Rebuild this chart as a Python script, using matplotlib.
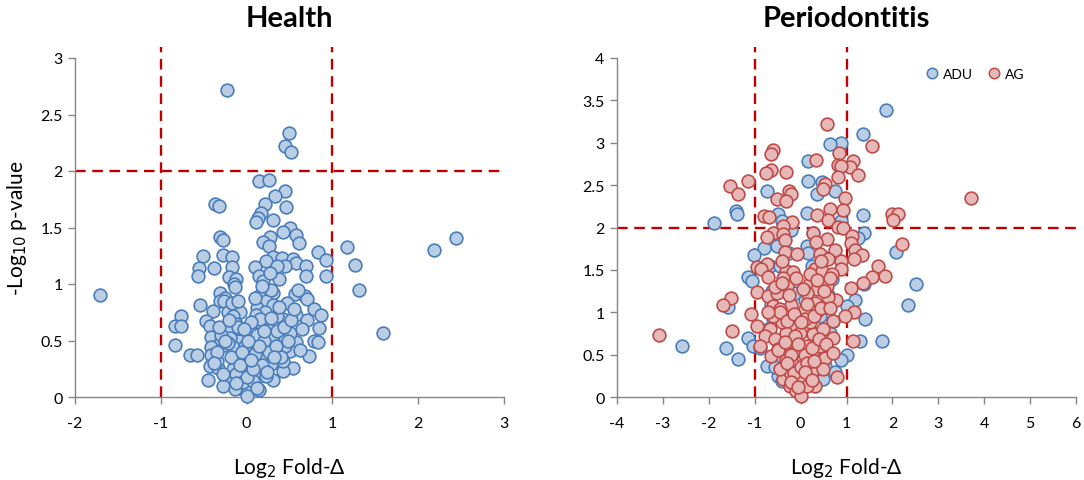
import matplotlib
matplotlib.use("Agg")
import matplotlib.pyplot as plt
from matplotlib.lines import Line2D

plt.rcParams['font.family'] = ['Lato', 'DejaVu Sans']

# ---------------- Health (ADU only) ----------------
health_x = [-1.71, -0.23, 0.49, 0.45, 0.52, 0.15, 0.26, 0.45, 0.33, 0.22, 0.46, -0.37, -0.32,
            0.17, 0.13, 0.31, 0.11, 0.50, 0.43, 0.57, 0.27, -0.31, -0.27, 0.61, 0.19, 0.26,
            1.17, 2.44, 2.18, 0.83, -0.51, -0.27, -0.17, 0.31, 0.41, 0.54, 0.93, 0.23, 0.58,
            1.26, 0.69, 0.45, 0.10, -0.17, -0.56, -0.38, 0.15, 0.69, 0.92, -0.57, -0.21, -0.12,
            0.38, 0.19, -0.15, -0.13, 1.31, 0.31, 0.56, -0.31, -0.25, 0.15, 0.68, 0.70, -0.31,
            -0.26, -0.54, 0.47, 0.23, 0.31, 0.12, 0.78, -0.39, -0.08, 0.21, -0.22, 0.58, 0.87,
            -0.76, -0.16, 0.11, 0.43, 0.70, -0.47, -0.12, 0.23, -0.83, -0.76, -0.43, -0.28, 0.14,
            -0.19, 0.84, 0.27, 0.41, 1.59, -0.04, -0.41, 0.08, -0.09, 0.57, 0.78, 0.83, -0.31,
            0.25, -0.25, -0.84, 0.08, -0.41, 0.50, -0.66, -0.58, -0.42, -0.17, 0.73, -0.08, 0.14,
            0.29, -0.43, -0.33, 0.54, -0.16, 0.43, 0.10, 0.16, -0.19, -0.06, 0.31, -0.27, 0.07,
            -0.08, 0.02, 0.14, 0.00, -0.14, 0.08, 0.35, 0.19, -0.35, -0.16, 0.00, 0.23, -0.12,
            0.43, 0.45, 0.31, -0.19, 0.16, 0.35, -0.17, 0.50, 0.35, 0.27, 0.04, -0.04, 0.08,
            -0.35, -0.30, -0.22, -0.10, -0.02, 0.05, 0.12, 0.20, 0.28, 0.36, 0.44, 0.52,
            -0.38, -0.28, -0.18, -0.05, 0.03, 0.10, 0.18, 0.26, 0.34, 0.40, 0.48,
            -0.32, -0.20, -0.08, 0.00, 0.07, 0.15, 0.24, 0.32, 0.38,
            -0.25, -0.12, -0.03, 0.05, 0.12, 0.20, 0.28, -0.10, 0.02, 0.10, 0.18,
            0.60, 0.65, -0.45, 0.55, 0.62]
health_y = [0.90, 2.72, 2.34, 2.22, 2.17, 1.91, 1.92, 1.82, 1.78, 1.71, 1.68, 1.71, 1.69,
            1.63, 1.58, 1.57, 1.55, 1.50, 1.46, 1.43, 1.42, 1.42, 1.39, 1.36, 1.37, 1.34,
            1.33, 1.41, 1.30, 1.28, 1.25, 1.26, 1.24, 1.24, 1.23, 1.22, 1.21, 1.20, 1.19,
            1.17, 1.16, 1.16, 1.15, 1.15, 1.14, 1.14, 1.07, 1.07, 1.07, 1.07, 1.06, 1.04,
            1.04, 1.03, 1.00, 0.97, 0.95, 0.92, 0.91, 0.92, 0.88, 0.89, 0.89, 0.87, 0.85,
            0.85, 0.81, 0.83, 0.85, 0.81, 0.79, 0.78, 0.76, 0.75, 0.75, 0.75, 0.73, 0.73,
            0.72, 0.72, 0.73, 0.69, 0.68, 0.67, 0.65, 0.65, 0.63, 0.63, 0.63, 0.61, 0.61,
            0.60, 0.61, 0.59, 0.55, 0.57, 0.55, 0.53, 0.51, 0.50, 0.49, 0.50, 0.49, 0.48,
            0.47, 0.46, 0.46, 0.42, 0.44, 0.41, 0.37, 0.37, 0.37, 0.36, 0.36, 0.33, 0.32,
            0.29, 0.27, 0.26, 0.26, 0.25, 0.23, 0.22, 0.19, 0.16, 0.16, 0.15, 0.10, 0.11,
            0.08, 0.05, 0.06, 0.01, 0.07, 0.57, 0.39, 0.38, 0.32, 0.44, 0.27, 0.19, 0.20,
            0.32, 0.45, 0.54, 0.52, 0.69, 0.72, 0.83, 0.57, 1.16, 1.10, 0.36, 0.13, 0.14,
            0.40, 0.55, 0.48, 0.62, 0.45, 0.66, 0.55, 0.50, 0.70, 0.58, 0.62, 0.68,
            0.30, 0.20, 0.35, 0.40, 0.30, 0.38, 0.28, 0.40, 0.45, 0.35, 0.50,
            0.62, 0.68, 0.28, 0.18, 0.25, 0.45, 0.22, 0.35, 0.80,
            0.50, 0.12, 0.60, 0.33, 0.08, 0.58, 0.95, 0.85, 0.50, 0.88, 0.98,
            0.95, 0.60, 0.15, 0.78, 0.42]

# ---------------- Periodontitis ----------------
adu_x = [1.86, 1.37, 0.89, 0.64, 0.17, 0.17, 0.46, 0.35, 0.75, -0.74, -1.40, -1.38, -1.89,
         1.35, 0.15, -0.49, -0.41, 0.88, 1.39, -0.20, 0.28, 1.26, 2.07, -0.80, 0.13, -0.52,
         -1.01, 0.17, -1.14, -1.06, -0.67, -0.31, 0.24, 0.68, 1.38, 2.52, 2.35, -1.58, 1.19,
         1.00, -0.62, -0.12, 1.40, -1.14, -1.03, -0.89, -2.58, -1.63, -1.37, 1.29, 1.77, 1.00,
         0.89, -0.74, -0.49, -0.41, 0.49, 0.53, 0.28, 0.42, -0.16, -0.60, 0.09, -0.45, 0.35, 0.64,
         -0.65, 0.60, -0.45, 0.50, -0.55, 0.75, -0.25, 0.40, -0.70, 0.70]
adu_y = [3.39, 3.10, 3.00, 2.98, 2.78, 2.55, 2.54, 2.39, 2.43, 2.43, 2.20, 2.16, 2.05,
         2.15, 2.17, 2.16, 2.08, 2.08, 1.93, 1.97, 1.94, 1.88, 1.71, 1.76, 1.78, 1.78,
         1.68, 1.70, 1.42, 1.37, 1.55, 1.49, 1.55, 1.39, 1.33, 1.33, 1.08, 1.06, 1.15,
         1.07, 1.25, 1.23, 0.92, 0.70, 0.60, 0.58, 0.60, 0.58, 0.45, 0.66, 0.66, 0.49,
         0.44, 0.37, 0.25, 0.19, 0.21, 0.37, 0.76, 0.96, 0.84, 0.92, 1.15, 0.44, 0.52, 0.76,
         1.10, 1.20, 1.55, 1.65, 0.35, 0.30, 1.70, 1.05, 0.80, 0.90]

ag_x = [-3.09, 3.71, 0.57, 1.56, -0.60, -0.64, 0.84, 0.33, 1.15, 1.08, 0.81, 0.89, -0.64,
        -0.76, -0.31, 1.24, -1.14, -1.54, -1.36, 0.82, 0.53, 0.49, -0.25, -0.21, -0.52, -0.31,
        0.97, 0.63, 0.92, 0.35, -0.80, -0.68, 2.00, 2.13, 2.02, 0.60, -0.18, -0.38, 0.81,
        0.93, -0.60, 0.28, -0.39, 1.11, -0.74, -0.33, 0.57, 0.33, 1.10, 2.20, 1.19, 0.75,
        -0.33, -0.07, 0.42, 1.33, 1.17, 0.60, 0.89, -0.74, -0.96, 1.68, -0.87, 0.31, 0.88,
        1.84, 1.56, -0.71, -0.31, -0.17, 0.46, -0.38, 0.68, 1.37, 0.20, -0.29, 1.10, 0.35,
        -0.96, -0.71, -1.51, -1.69, 0.77, 0.31, -0.20, -0.60, -1.07, 1.17, 0.97, -0.09, 0.71,
        -0.96, -0.67, -0.14, -1.50, 0.28, -0.78, 0.71, -0.56, 1.15, -0.27, 0.13, -0.49, 0.28,
        -0.65, 0.53, -0.16, 0.13, 0.79, -0.38, 0.02, 0.31, -0.23, -0.09, 0.00,
        -0.45, 0.09, -0.01, -0.31, 0.49, 0.20, -0.16, 0.42, 0.17, -0.23, 0.24, 0.00, -0.31,
        0.49, -0.89, -0.45, 0.13, -0.12, 0.35, -0.52, 0.57, 0.09, -0.41, 0.57, 0.13,
        -0.50, -0.35, -0.20, -0.05, 0.10, 0.25, 0.40, 0.55, 0.70,
        -0.60, -0.45, -0.30, -0.15, 0.00, 0.15, 0.30, 0.45, 0.60,
        -0.55, -0.40, -0.25, -0.10, 0.05, 0.20, 0.35, 0.50, 0.65,
        -0.30, -0.15, 0.00, 0.15, 0.30, -0.20, -0.05, 0.10, 0.25,
        -0.70, -0.40, 0.45, 0.65]
ag_y = [0.73, 2.35, 3.22, 2.96, 2.91, 2.87, 2.88, 2.80, 2.78, 2.71, 2.74, 2.73, 2.68,
        2.64, 2.66, 2.62, 2.55, 2.49, 2.39, 2.59, 2.51, 2.45, 2.43, 2.39, 2.34, 2.31,
        2.35, 2.22, 2.21, 2.15, 2.14, 2.12, 2.16, 2.16, 2.09, 2.09, 2.07, 2.02, 2.01,
        1.99, 1.94, 1.94, 1.92, 1.90, 1.89, 1.85, 1.86, 1.83, 1.82, 1.81, 1.74, 1.74,
        1.71, 1.69, 1.69, 1.67, 1.63, 1.63, 1.61, 1.57, 1.53, 1.55, 1.51, 1.51, 1.51,
        1.43, 1.42, 1.42, 1.49, 1.48, 1.49, 1.41, 1.45, 1.34, 1.34, 1.31, 1.29, 1.27,
        1.24, 1.19, 1.17, 1.09, 1.15, 1.11, 1.09, 1.07, 0.98, 1.00, 0.96, 0.94, 0.90,
        0.84, 0.80, 0.82, 0.78, 0.74, 0.72, 0.70, 0.68, 0.66, 0.62, 0.60, 0.57, 0.54,
        0.48, 0.46, 0.39, 0.35, 0.24, 0.21, 0.21, 0.13, 0.13, 0.07, 0.01,
        1.04, 1.04, 0.76, 0.76, 0.80, 0.88, 0.52, 0.60, 0.44, 0.29, 0.29, 0.25, 0.44,
        0.33, 0.60, 0.33, 0.13, 0.72, 1.02, 1.23, 1.07, 0.92, 0.88, 1.31, 1.23,
        0.55, 0.65, 0.50, 0.62, 0.50, 0.58, 0.68, 0.62, 0.52,
        0.95, 1.00, 0.90, 0.98, 0.88, 1.10, 0.96, 1.05, 1.18,
        1.30, 1.35, 1.20, 1.40, 1.28, 1.45, 1.38, 1.25, 1.40,
        0.40, 0.28, 0.35, 0.40, 0.42, 0.18, 0.12, 0.30, 0.20,
        1.00, 1.60, 1.60, 1.05]

legend_labels = ["ADU", "AG"]

blue_face, blue_edge = "#B9CDE5", "#4A7EBB"
red_face, red_edge = "#E6B9B8", "#BE4B48"
line_col = "#C00000"
spine_col = "#868686"

W, H = 1084, 481
fig = plt.figure(figsize=(W / 100, H / 100), dpi=100)


def make_ax(x0, x1, y0, y1):
    return fig.add_axes([x0 / W, 1 - y0 / H, (x1 - x0) / W, (y0 - y1) / H])


def style(ax, xlim, ylim, xticks, yticks):
    ax.set_xlim(*xlim)
    ax.set_ylim(*ylim)
    ax.set_xticks(xticks)
    ax.set_yticks(yticks)
    ax.set_xticklabels([f"{t:g}" for t in xticks])
    ax.set_yticklabels([f"{t:g}" for t in yticks])
    for s in ["top", "right"]:
        ax.spines[s].set_visible(False)
    for s in ["left", "bottom"]:
        ax.spines[s].set_color(spine_col)
        ax.spines[s].set_linewidth(1.0)
    ax.tick_params(axis="both", direction="out", length=5, width=1, color=spine_col,
                   labelsize=11.5, labelcolor="black", pad=4)
    ax.tick_params(axis="x", pad=9)


dash = (0, (4.5, 2.8))
lw_ref = 1.7
ms = 84

# Health
ax1 = make_ax(75, 504, 398, 59)
style(ax1, (-2, 3), (0, 3), [-2, -1, 0, 1, 2, 3], [0, 0.5, 1, 1.5, 2, 2.5, 3])
for xv in (-1, 1):
    ax1.plot([xv, xv], [0, 3.1], color=line_col, lw=lw_ref, linestyle=dash, clip_on=False, zorder=1)
ax1.plot([-2, 3], [2, 2], color=line_col, lw=lw_ref, linestyle=dash, clip_on=False, zorder=1)
ax1.scatter(health_x, health_y, s=ms, c=blue_face, edgecolors=blue_edge, linewidths=1.2,
            clip_on=False, zorder=3)
ax1.set_title("Health", fontsize=21, fontweight="bold", pad=23)
ax1.set_xlabel("Log$_2$ Fold-Δ", fontsize=15, labelpad=18)
ax1.set_ylabel("-Log$_{10}$ p-value", fontsize=15, labelpad=8)

# Periodontitis
ax2 = make_ax(617, 1076, 398, 59)
style(ax2, (-4, 6), (0, 4), list(range(-4, 7)), [0, 0.5, 1, 1.5, 2, 2.5, 3, 3.5, 4])
for xv in (-1, 1):
    ax2.plot([xv, xv], [0, 4.13], color=line_col, lw=lw_ref, linestyle=dash, clip_on=False, zorder=1)
ax2.plot([-4, 6], [2, 2], color=line_col, lw=lw_ref, linestyle=dash, clip_on=False, zorder=1)
ax2.scatter(adu_x, adu_y, s=ms, c=blue_face, edgecolors=blue_edge, linewidths=1.2,
            clip_on=False, zorder=3)
ax2.scatter(ag_x, ag_y, s=ms, c=red_face, edgecolors=red_edge, linewidths=1.2,
            clip_on=False, zorder=4)
ax2.set_title("Periodontitis", fontsize=21, fontweight="bold", pad=23)
ax2.set_xlabel("Log$_2$ Fold-Δ", fontsize=15, labelpad=18)

handles = [Line2D([], [], marker="o", linestyle="none", markersize=7.5,
                  markerfacecolor=blue_face, markeredgecolor=blue_edge, markeredgewidth=1.1),
           Line2D([], [], marker="o", linestyle="none", markersize=7.5,
                  markerfacecolor=red_face, markeredgecolor=red_edge, markeredgewidth=1.1)]
ax2.legend(handles, legend_labels, ncol=2, frameon=False, fontsize=10,
           loc="center left", bbox_to_anchor=((918 - 617) / 459, (398 - 75) / 339),
           handletextpad=0.3, columnspacing=1.0, borderpad=0, handlelength=1.0)

fig.savefig("out.png", dpi=100)
